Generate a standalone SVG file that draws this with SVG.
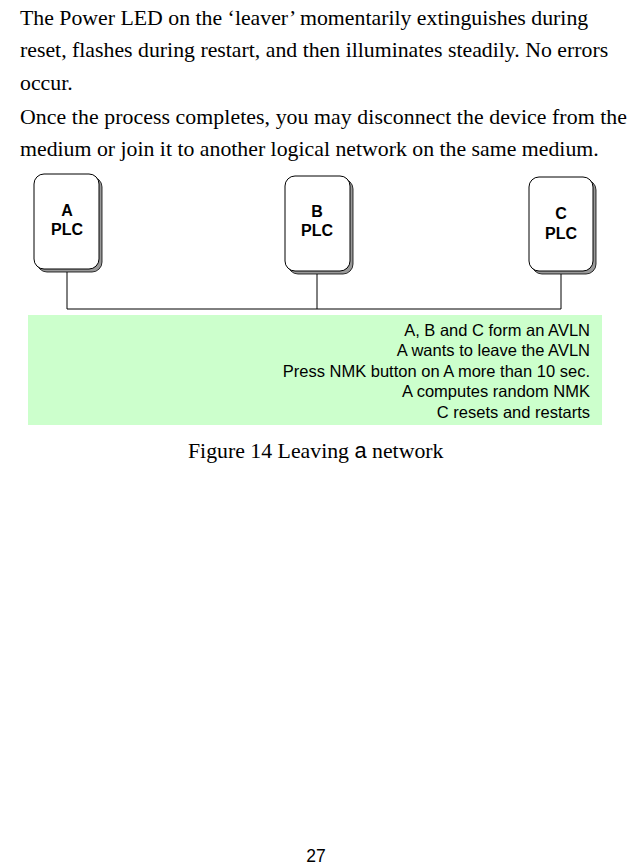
<svg xmlns="http://www.w3.org/2000/svg" width="632" height="865" viewBox="0 0 632 865">
<style>
.body{font-family:"Liberation Serif",serif;font-size:21.8px;fill:#000}
.shadow{fill:#999;stroke:#000;stroke-width:0.8}
.box{fill:#fff;stroke:#000;stroke-width:1}
.lbl{font-family:"Liberation Sans",sans-serif;font-size:16px;font-weight:bold;text-anchor:middle}
.note{font-family:"Liberation Sans",sans-serif;font-size:16.5px;text-anchor:end}
.wire{fill:none;stroke:#000;stroke-width:1}
</style>
<rect width="632" height="865" fill="#fff"/>
<text class="body" x="20" y="25">The Power LED on the ‘leaver’ momentarily extinguishes during</text>
<text class="body" x="20" y="57">reset, flashes during restart, and then illuminates steadily. No errors</text>
<text class="body" x="20" y="90">occur.</text>
<text class="body" x="20" y="124" textLength="607" lengthAdjust="spacing">Once the process completes, you may disconnect the device from the</text>
<text class="body" x="20" y="156">medium or join it to another logical network on the same medium.</text>
<g id="connectors">
<path class="wire" d="M67 271V309H561V272M317 272V309"/>
</g>
<g id="nodeA">
<rect class="shadow" x="37" y="177" width="65" height="95" rx="10"/>
<rect class="box" x="34" y="174" width="65" height="95" rx="10"/>
<text class="lbl" x="67" y="216">A</text><text class="lbl" x="67" y="235">PLC</text>
</g>
<g id="nodeB">
<rect class="shadow" x="288" y="179" width="65" height="95" rx="10"/>
<rect class="box" x="285" y="176" width="65" height="95" rx="10"/>
<text class="lbl" x="317" y="217">B</text><text class="lbl" x="317" y="236">PLC</text>
</g>
<g id="nodeC">
<rect class="shadow" x="532" y="180" width="64" height="94" rx="10"/>
<rect class="box" x="529" y="177" width="64" height="94" rx="10"/>
<text class="lbl" x="561" y="219">C</text><text class="lbl" x="561" y="239">PLC</text>
</g>
<g id="notes">
<rect x="28" y="315" width="574" height="110" fill="#ccffcc"/>
<text class="note" x="590" y="336">A, B and C form an AVLN</text>
<text class="note" x="590" y="356">A wants to leave the AVLN</text>
<text class="note" x="590" y="377">Press NMK button on A more than 10 sec.</text>
<text class="note" x="590" y="397">A computes random NMK</text>
<text class="note" x="590" y="418">C resets and restarts</text>
</g>
<text class="body" x="188" y="458" font-size="20.7">Figure 14 Leaving <tspan font-family="Liberation Sans,sans-serif">a</tspan> network</text>
<text x="316" y="862" font-family="Liberation Sans,sans-serif" font-size="17.5" text-anchor="middle">27</text>
</svg>
